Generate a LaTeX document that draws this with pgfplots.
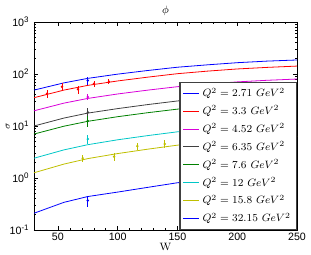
\documentclass[border=0pt]{standalone}
\usepackage{fontspec}
\setsansfont{Liberation Sans}
\usepackage{pgfplots}
\pgfplotsset{compat=1.18}
\definecolor{cB}{rgb}{0,0,1}
\definecolor{cR}{rgb}{1,0,0}
\definecolor{cM}{rgb}{0.85,0,0.85}
\definecolor{cK}{rgb}{0.25,0.25,0.25}
\definecolor{cG}{rgb}{0,0.5,0}
\definecolor{cC}{rgb}{0,0.78,0.78}
\definecolor{cY}{rgb}{0.75,0.75,0}
\newcommand{\tp}[1]{10\textsuperscript{#1}}
\begin{document}
\begin{tikzpicture}
\begin{axis}[
  scale only axis, width=197.25pt, height=156pt,
  ymode=log, xmin=30, xmax=250, ymin=0.1, ymax=1000,
  xtick={50,100,150,200,250},
  ytick={0.1,1,10,100,1000},
  yticklabels={\tp{-1},\tp{0},\tp{1},\tp{2},\tp{3}},
  minor x tick num=4,
  tick align=inside, tick pos=both,
  major tick length=3pt, minor tick length=1.6pt,
  every tick/.style={black, line width=0.4pt},
  ticklabel style={font=\sffamily\fontsize{8}{9}\selectfont},
  /pgf/number format/assume math mode=true,
  xticklabel style={yshift=1pt},
  axis line style={line width=0.5pt},
  title={$\phi$}, title style={font=\fontsize{8}{9}\selectfont, yshift=-4.5pt},
  xlabel={W}, xlabel style={font=\fontsize{8}{9}\selectfont, yshift=5pt},
  ylabel={$\sigma$}, ylabel style={font=\fontsize{7}{8}\selectfont, yshift=-7pt},
  legend style={name=leg, at={(0.997,0.003)}, anchor=south east, draw=none, fill=white,
    font=\fontsize{8.3}{10}\selectfont, row sep=1.2pt, inner sep=2pt},
  legend cell align=left,
  legend image code/.code={\draw[#1, line width=0.65pt] (0cm,0cm) -- (0.42cm,0cm);},
  every axis plot/.append style={line width=0.6pt},
]
\addplot[color=cB, no marks] coordinates {(30,49) (55,67.5) (75,82.4) (100,99.4) (125,116.7) (150,135) (175,150) (200,165) (225,177) (250,186)};
\addlegendentry{$Q^2 = 2.71\ GeV^2$}
\addplot[color=cR, no marks] coordinates {(30,35) (55,49) (75,60.4) (100,73.5) (125,86.9) (150,101.4) (175,113.5) (200,125) (225,134) (250,142)};
\addlegendentry{$Q^2 = 3.3\ GeV^2$}
\addplot[color=cM, no marks] coordinates {(30,19.6) (55,27.5) (75,33.9) (100,41.3) (125,48.9) (150,57) (175,63.8) (200,70.5) (225,75.7) (250,80)};
\addlegendentry{$Q^2 = 4.52\ GeV^2$}
\addplot[color=cK, no marks] coordinates {(30,10) (55,14.2) (75,17.7) (100,21.6) (125,25.8) (150,30.3) (175,34) (200,37.7) (225,40.5) (250,43)};
\addlegendentry{$Q^2 = 6.35\ GeV^2$}
\addplot[color=cG, no marks] coordinates {(30,7.0) (55,9.9) (75,12.3) (100,15.1) (125,18.0) (150,21.1) (175,23.8) (200,26.3) (225,28.3) (250,30)};
\addlegendentry{$Q^2 = 7.6\ GeV^2$}
\addplot[color=cC, no marks] coordinates {(30,2.4) (55,3.47) (75,4.37) (100,5.43) (125,6.53) (150,7.73) (175,8.75) (200,9.75) (225,10.5) (250,11.2)};
\addlegendentry{$Q^2 = 12\ GeV^2$}
\addplot[color=cY, no marks] coordinates {(30,1.26) (55,1.85) (75,2.36) (100,2.95) (125,3.58) (150,4.28) (175,4.86) (200,5.45) (225,5.9) (250,6.3)};
\addlegendentry{$Q^2 = 15.8\ GeV^2$}
\addplot[color=cB, no marks] coordinates {(30,0.21) (55,0.34) (75,0.44) (100,0.536) (125,0.66) (150,0.81) (175,0.93) (200,1.05) (225,1.15) (250,1.23)};
\addlegendentry{$Q^2 = 32.15\ GeV^2$}
% data points
\addplot[color=cR, only marks, mark=*, mark size=0.6pt, forget plot,
  error bars/.cd, y dir=both, y explicit, error mark=none, error bar style={line width=0.7pt}]
  coordinates {(40.9,42) +- (0,7) (53.4,57) +- (0,9) (66.8,51) +- (0,9) (80.2,65) +- (0,8) (92.7,71) +- (0,8)};
\addplot[color=cB, only marks, mark=*, mark size=0.6pt, forget plot,
  error bars/.cd, y dir=both, y explicit, error mark=none, error bar style={line width=0.7pt}]
  coordinates {(75,75) +- (0,14)};
\addplot[color=cM, only marks, mark=*, mark size=0.6pt, forget plot,
  error bars/.cd, y dir=both, y explicit, error mark=none, error bar style={line width=0.7pt}]
  coordinates {(75,36) +- (0,5)};
\addplot[color=cK, only marks, mark=*, mark size=0.6pt, forget plot,
  error bars/.cd, y dir=both, y explicit, error mark=none, error bar style={line width=0.7pt}]
  coordinates {(75,18.3) +- (0,3.7)};
\addplot[color=cG, only marks, mark=*, mark size=0.6pt, forget plot,
  error bars/.cd, y dir=both, y explicit, error mark=none, error bar style={line width=0.7pt}]
  coordinates {(75,12.5) +- (0,2.8)};
\addplot[color=cC, only marks, mark=*, mark size=0.6pt, forget plot,
  error bars/.cd, y dir=both, y explicit, error mark=none, error bar style={line width=0.7pt}]
  coordinates {(75,5.6) +- (0,1)};
\addplot[color=cY, only marks, mark=*, mark size=0.6pt, forget plot,
  error bars/.cd, y dir=both, y explicit, error mark=none, error bar style={line width=0.7pt}]
  coordinates {(70.7,2.4) +- (0,0.35) (97,2.57) +- (0,0.45) (116.4,4.1) +- (0,0.6) (139.3,4.5) +- (0,0.8)};
\addplot[color=cB, only marks, mark=*, mark size=0.6pt, forget plot,
  error bars/.cd, y dir=both, y explicit, error mark=none, error bar style={line width=0.7pt}]
  coordinates {(75,0.37) +- (0,0.09)};
\end{axis}
\draw[black!75, line width=1pt] (leg.south west) rectangle (leg.north east);
\pgfresetboundingbox
\path ([xshift=-25.5pt,yshift=-18.75pt]current axis.south west) rectangle ([xshift=10.5pt,yshift=16.5pt]current axis.north east);
\end{tikzpicture}
\end{document}
